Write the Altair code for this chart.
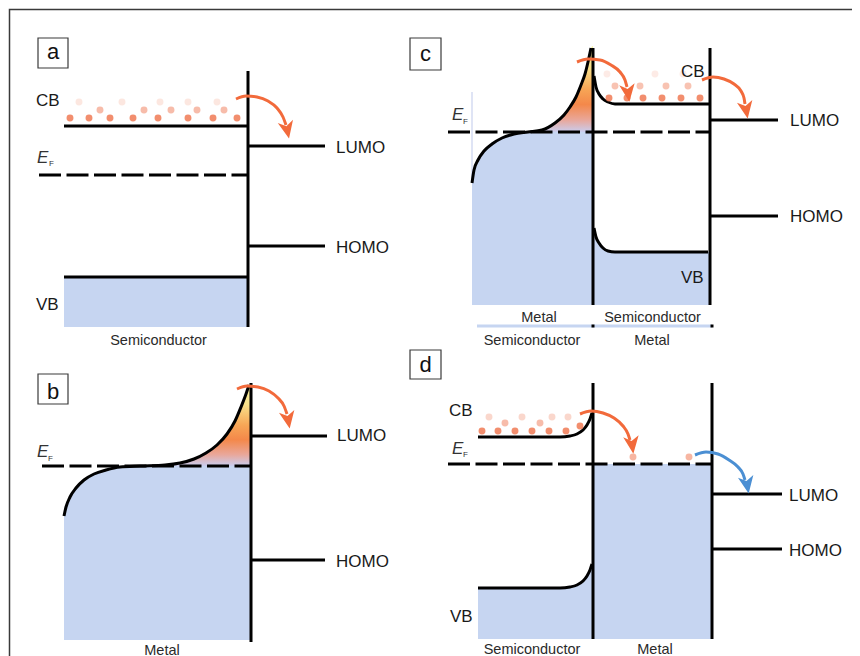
import altair as alt
import pandas as pd

# ---------------- data (picture coordinates, px) ----------------
# solid straight levels / interfaces
seg_x1 = [248, 64, 248, 248, 64, 251, 251, 251, 593, 710, 710, 710, 593, 712, 712, 712]
seg_y1 = [71, 126, 146, 246, 277, 383, 436, 560, 48, 48, 120, 216, 383, 383, 494, 549]
seg_x2 = [248, 248, 325, 325, 248, 251, 327, 325, 593, 710, 778, 778, 593, 712, 782, 782]
seg_y2 = [327, 126, 146, 246, 277, 642, 436, 560, 305, 305, 120, 216, 639, 639, 494, 549]

# Fermi levels (dashed)
ef_x1 = [39, 42, 448, 448]
ef_x2 = [248, 251, 710, 712]
ef_y = [175, 466, 132, 464]

# bent bands
curve_b_metal_x = [64, 66, 70, 76, 84, 94, 106, 120, 140, 165, 180, 194, 206, 217, 227, 235, 241, 246, 249]
curve_b_metal_y = [516, 507, 497, 488, 480, 474, 470, 467, 466, 465, 463, 459, 453, 445, 434, 421, 407, 394, 385]
curve_c_metal_x = [472, 474, 478, 484, 492, 502, 514, 528, 542, 555, 564, 570, 576, 581, 585, 588, 591]
curve_c_metal_y = [183, 170, 160, 151, 144, 138, 134, 132, 130, 123, 115, 107, 97, 85, 74, 62, 48]
curve_c_cb_x = [594, 596, 599, 603, 608, 615, 625, 710]
curve_c_cb_y = [76, 87, 94, 99, 102, 104, 104, 104]
curve_c_vb_x = [594, 596, 599, 603, 608, 615, 625, 708]
curve_c_vb_y = [228, 237, 243, 248, 251, 252, 252, 252]
curve_d_cb_x = [478, 560, 570, 577, 583, 587, 590, 592]
curve_d_cb_y = [437, 437, 436, 434, 430, 425, 419, 413]
curve_d_vb_x = [478, 560, 570, 577, 583, 587, 590, 592]
curve_d_vb_y = [588, 588, 587, 585, 581, 576, 570, 564]

# filled (occupied) regions: top edge and bottom edge
fill_a_x = [64, 248]
fill_a_top = [277, 277]
fill_a_bot = 327
fill_b_x = [64, 66, 70, 76, 84, 94, 106, 120, 140, 165, 251]
fill_b_top = [516, 507, 497, 488, 480, 474, 470, 467, 466, 466, 466]
fill_b_bot = 640
fill_cl_x = [472, 474, 478, 484, 492, 502, 514, 528, 593]
fill_cl_top = [183, 170, 160, 151, 144, 138, 134, 132, 132]
fill_cl_bot = 305
fill_cr_x = [594, 596, 599, 603, 608, 615, 625, 710]
fill_cr_top = [228, 237, 243, 248, 251, 252, 252, 252]
fill_cr_bot = 305
fill_dl_x = [478, 560, 570, 577, 583, 587, 590, 593]
fill_dl_top = [588, 588, 587, 585, 581, 576, 570, 562]
fill_dl_bot = 639
fill_dm_x = [593, 712]
fill_dm_top = [464, 464]
fill_dm_bot = 639

# hot-electron gradient regions
hot_b_x = [140, 165, 180, 194, 206, 217, 227, 235, 241, 246, 249, 251]
hot_b_top = [466, 465, 463, 459, 453, 445, 434, 421, 407, 394, 385, 384]
hot_b_bot = 466
hot_c_x = [528, 542, 555, 564, 570, 576, 581, 585, 588, 591, 593]
hot_c_top = [132, 130, 123, 115, 107, 97, 85, 74, 62, 48, 46]
hot_c_bot = 132

# electrons (x, y, opacity)
dot_x = [70, 89, 110, 133, 158, 188, 213, 237,
         100, 144, 171, 197, 224,
         79, 122, 160, 188, 217,
         609, 627, 643, 662, 681, 700,
         615, 640, 666, 688,
         607, 655, 683,
         482, 498, 515, 532, 549, 566, 580,
         505, 540,
         489, 522, 552, 568,
         633, 689]
dot_y = [118, 118, 118, 118, 118, 118, 118, 118,
         110, 110, 110, 110, 110,
         102, 102, 102, 102, 102,
         98, 98, 98, 98, 98, 98,
         86, 86, 86, 86,
         74, 74, 74,
         431, 431, 431, 431, 431, 431, 426,
         423, 423,
         417, 417, 417, 417,
         457, 457]
dot_a = [0.85] * 8 + [0.5] * 5 + [0.18] * 5 + [0.85] * 6 + [0.45] * 4 + [0.15] * 3 + \
        [0.85] * 7 + [0.5] * 2 + [0.3] * 4 + [0.55, 0.55]

# transfer arrows
arrows = {
    "a": ([236, 246, 257, 268, 277, 283, 286], [99, 96, 97, 101, 108, 117, 125], "e"),
    "b": ([237, 247, 258, 269, 278, 284, 287], [389, 386, 387, 391, 398, 406, 414], "e"),
    "c1": ([577, 588, 600, 611, 620, 625, 627], [62, 59, 60, 65, 72, 80, 87], "e"),
    "c2": ([702, 713, 724, 734, 741, 744, 745], [80, 77, 79, 84, 91, 98, 104], "e"),
    "d1": ([580, 591, 603, 614, 623, 628, 630], [414, 411, 413, 418, 426, 434, 440], "e"),
    "d2": ([695, 706, 718, 729, 738, 743, 745], [455, 452, 454, 460, 467, 474, 480], "h"),
}
head_x = [287, 288, 628, 746, 632, 747]
head_y = [129, 419, 92, 109, 444, 484]
head_ang = [168, 170, 172, 170, 172, 170]
head_kind = ["e", "e", "e", "e", "e", "h"]

# labels
lab_text = ["CB", "LUMO", "HOMO", "VB", "LUMO", "HOMO", "CB", "LUMO", "HOMO", "VB",
            "CB", "LUMO", "HOMO", "VB"]
lab_x = [36, 336, 336, 36, 337, 336, 681, 790, 790, 681, 449, 789, 789, 450]
lab_y = [105.5, 152.5, 253, 310, 441, 566.5, 76.5, 126, 221.5, 282.5, 416, 501, 556, 621.5]

bot_text = ["Semiconductor", "Metal", "Metal", "Semiconductor", "Semiconductor", "Metal",
            "Semiconductor", "Metal"]
bot_x = [158.5, 162, 539, 652.5, 532, 652, 532, 655]
bot_y = [344.5, 655, 322, 322, 344.5, 345, 654, 654]

box_text = ["a", "b", "c", "d"]
box_x1 = [38, 38, 410, 410]
box_x2 = [68, 68, 441, 441]
box_y1 = [38, 374, 38, 350]
box_y2 = [68, 404, 70, 379]
box_ty = [59, 398.5, 61, 372]

ef_lab_x = [37, 37, 452, 452]
ef_lab_y = [163, 457, 120, 454]
ef_sub_x = [49, 48, 463, 463]
ef_sub_y = [166, 461, 124, 457]

sep_x1 = [477]
sep_x2 = [712]
sep_y = [326]
sep_dot_x = [593, 712]
sep_dot_y = [326, 326]

faint_x = [472]
faint_y1 = [92]
faint_y2 = [183]

# outer frame (left/top edges visible; the rest runs past the picture)
frame_x1 = [9.5]
frame_x2 = [900]
frame_y1 = [9.5]
frame_y2 = [700]

# ---------------- chart ----------------
xs = alt.Scale(domain=[8, 852], nice=False, zero=False)
ys = alt.Scale(domain=[8, 656], nice=False, zero=False, reverse=True)


def X(f="x"):
    return alt.X(f"{f}:Q", scale=xs, axis=None)


def Y(f="y"):
    return alt.Y(f"{f}:Q", scale=ys, axis=None, stack=None)


BLUE = "#c6d5f1"
ORANGE = "#f26a3b"
FONT = "Liberation Sans"


def area_df(parts):
    rows = []
    for pid, (px, ptop, pbot) in parts.items():
        for a, b in zip(px, ptop):
            rows.append({"id": pid, "x": a, "y": b, "y2": pbot})
    return pd.DataFrame(rows)


fills = area_df({
    "a": (fill_a_x, fill_a_top, fill_a_bot),
    "b": (fill_b_x, fill_b_top, fill_b_bot),
    "cl": (fill_cl_x, fill_cl_top, fill_cl_bot),
    "cr": (fill_cr_x, fill_cr_top, fill_cr_bot),
    "dl": (fill_dl_x, fill_dl_top, fill_dl_bot),
    "dm": (fill_dm_x, fill_dm_top, fill_dm_bot),
})
hot = area_df({
    "b": (hot_b_x, hot_b_top, hot_b_bot),
    "c": (hot_c_x, hot_c_top, hot_c_bot),
})

curve_rows = []
for cid, (cx, cy) in {
    "bm": (curve_b_metal_x, curve_b_metal_y),
    "cm": (curve_c_metal_x, curve_c_metal_y),
    "ccb": (curve_c_cb_x, curve_c_cb_y),
    "cvb": (curve_c_vb_x, curve_c_vb_y),
    "dcb": (curve_d_cb_x, curve_d_cb_y),
    "dvb": (curve_d_vb_x, curve_d_vb_y),
}.items():
    for i, (a, b) in enumerate(zip(cx, cy)):
        curve_rows.append({"id": cid, "o": i, "x": a, "y": b})
curves = pd.DataFrame(curve_rows)

arrow_rows = []
for aid, (ax, ay, kind) in arrows.items():
    for i, (a, b) in enumerate(zip(ax, ay)):
        arrow_rows.append({"id": aid, "o": i, "x": a, "y": b, "kind": kind})
arrow_df = pd.DataFrame(arrow_rows)

kind_color = alt.Color("kind:N", scale=alt.Scale(domain=["e", "h"], range=[ORANGE, "#4b8fd3"]), legend=None)

layers = []

layers.append(alt.Chart(fills).mark_area(color=BLUE, interpolate="monotone").encode(
    x=X(), y=Y(), y2="y2:Q", detail="id:N"))

grad = alt.Gradient(
    gradient="linear", x1=0, x2=0, y1=0, y2=1,
    stops=[
        alt.GradientStop(color="#f8f4a6", offset=0.0),
        alt.GradientStop(color="#f8e08a", offset=0.25),
        alt.GradientStop(color="#f7a656", offset=0.5),
        alt.GradientStop(color="#f4884a", offset=0.68),
        alt.GradientStop(color="#e9a79a", offset=0.86),
        alt.GradientStop(color="#c9cdef", offset=1.0),
    ])
layers.append(alt.Chart(hot).mark_area(color=grad, interpolate="monotone").encode(
    x=X(), y=Y(), y2="y2:Q", detail="id:N"))

layers.append(alt.Chart(pd.DataFrame({"x": faint_x, "y": faint_y1, "y2": faint_y2})).mark_rule(
    color="#d5dbf2", strokeWidth=1.5).encode(x=X(), y=Y(), y2="y2:Q"))

layers.append(alt.Chart(pd.DataFrame({"x": sep_x1, "x2": sep_x2, "y": sep_y})).mark_rule(
    color=BLUE, strokeWidth=3).encode(x=X(), x2="x2:Q", y=Y()))
layers.append(alt.Chart(pd.DataFrame({"x": sep_dot_x, "y": sep_dot_y})).mark_square(
    color="black", size=9, opacity=1).encode(x=X(), y=Y()))

layers.append(alt.Chart(pd.DataFrame({"x": seg_x1, "y": seg_y1, "x2": seg_x2, "y2": seg_y2})).mark_rule(
    color="black", strokeWidth=3).encode(x=X(), y=Y(), x2="x2:Q", y2="y2:Q"))

layers.append(alt.Chart(pd.DataFrame({"x": ef_x1, "x2": ef_x2, "y": ef_y})).mark_rule(
    color="black", strokeWidth=3, strokeDash=[22, 5.5]).encode(x=X(), x2="x2:Q", y=Y()))

layers.append(alt.Chart(curves).mark_line(color="black", strokeWidth=3, interpolate="monotone").encode(
    x=X(), y=Y(), detail="id:N", order="o:Q"))

layers.append(alt.Chart(pd.DataFrame({"x": dot_x, "y": dot_y, "a": dot_a})).mark_circle(
    color="#f07a55", size=48).encode(x=X(), y=Y(), opacity=alt.Opacity("a:Q", scale=None)))

layers.append(alt.Chart(arrow_df).mark_line(strokeWidth=3, interpolate="monotone").encode(
    x=X(), y=Y(), detail="id:N", order="o:Q", color=kind_color))

layers.append(alt.Chart(pd.DataFrame({"x": head_x, "y": head_y, "ang": head_ang, "kind": head_kind})).mark_point(
    shape="M0,-1L0.8,0.8L0,0.3L-0.8,0.8Z", filled=True, size=380, opacity=1, strokeWidth=0).encode(
    x=X(), y=Y(), angle=alt.Angle("ang:Q", scale=None), color=kind_color))

layers.append(alt.Chart(pd.DataFrame({"x": frame_x1, "x2": frame_x2, "y": frame_y1, "y2": frame_y2})).mark_rect(
    fillOpacity=0, stroke="#3a3a3a", strokeWidth=1.5).encode(x=X(), x2="x2:Q", y=Y(), y2="y2:Q"))

layers.append(alt.Chart(pd.DataFrame({"x": box_x1, "x2": box_x2, "y": box_y1, "y2": box_y2})).mark_rect(
    fill="white", stroke="#3a3a3a", strokeWidth=1.2).encode(x=X(), x2="x2:Q", y=Y(), y2="y2:Q"))

box_df = pd.DataFrame({"t": box_text, "x": [(a + b) / 2 for a, b in zip(box_x1, box_x2)], "y": box_ty})
layers.append(alt.Chart(box_df).mark_text(font=FONT, fontSize=22, align="center", baseline="alphabetic",
                                          color="#111").encode(x=X(), y=Y(), text="t:N"))

layers.append(alt.Chart(pd.DataFrame({"t": lab_text, "x": lab_x, "y": lab_y})).mark_text(
    font=FONT, fontSize=17, align="left", baseline="alphabetic", color="#1a1a1a").encode(
    x=X(), y=Y(), text="t:N"))

layers.append(alt.Chart(pd.DataFrame({"t": bot_text, "x": bot_x, "y": bot_y})).mark_text(
    font=FONT, fontSize=14.5, align="center", baseline="alphabetic", color="#2a2a2a").encode(
    x=X(), y=Y(), text="t:N"))

layers.append(alt.Chart(pd.DataFrame({"t": ["E"] * 4, "x": ef_lab_x, "y": ef_lab_y})).mark_text(
    font=FONT, fontSize=17, fontStyle="italic", align="left", baseline="alphabetic", color="#333").encode(
    x=X(), y=Y(), text="t:N"))
layers.append(alt.Chart(pd.DataFrame({"t": ["F"] * 4, "x": ef_sub_x, "y": ef_sub_y})).mark_text(
    font=FONT, fontSize=8, align="left", baseline="alphabetic", color="#333").encode(
    x=X(), y=Y(), text="t:N"))

chart = alt.layer(*layers).properties(
    width=844, height=648, padding=0, autosize=alt.AutoSizeParams(type="none"),
    background="white",
).configure_view(stroke="transparent", strokeWidth=0, strokeOpacity=0)

chart.save("out.html", embed_options={"renderer": "svg", "actions": False})
